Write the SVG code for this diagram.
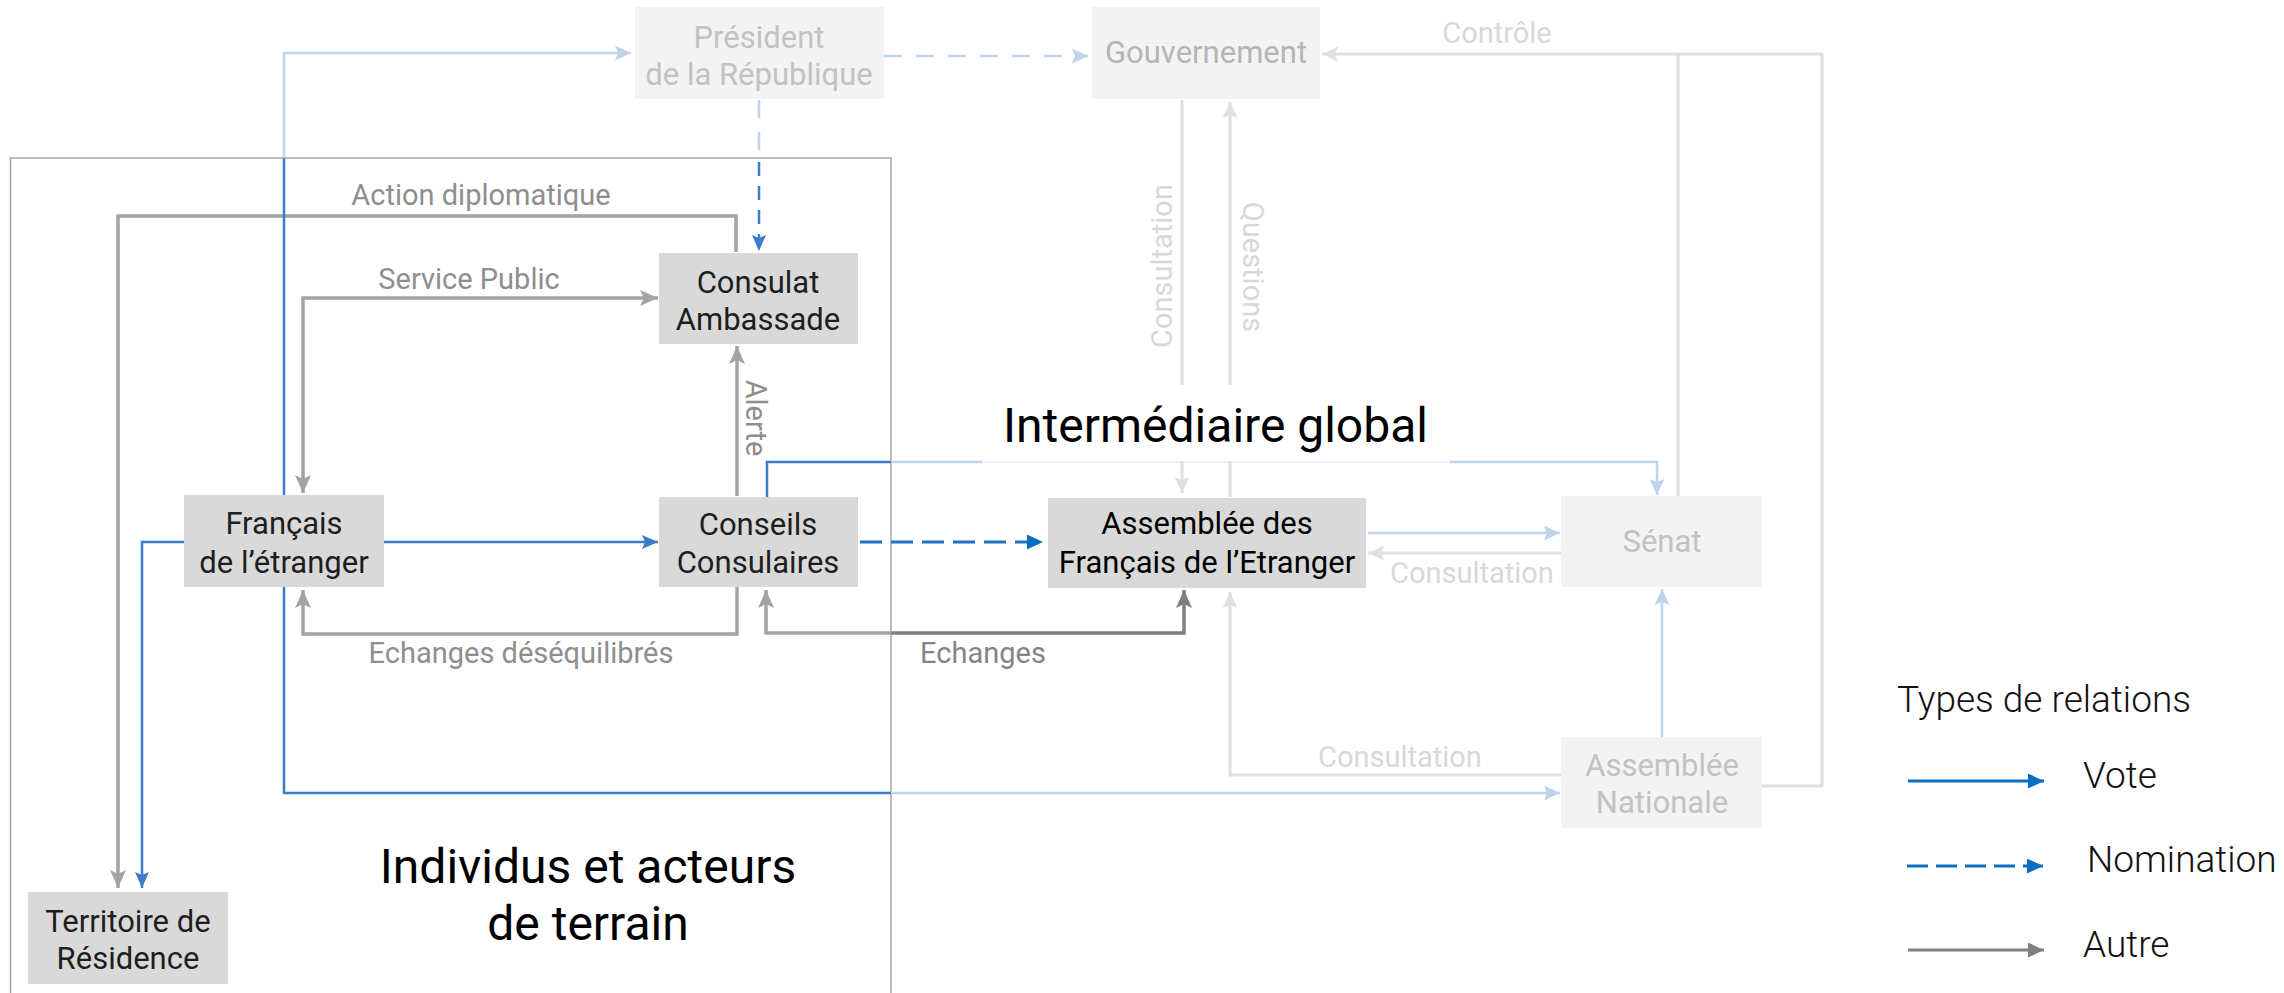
<svg xmlns="http://www.w3.org/2000/svg" width="2284" height="993" viewBox="0 0 2284 993">
<style>
text{font-family:Roboto,"Liberation Sans",sans-serif}
.box{fill:#d9d9d9}
.fbox{fill:#f3f3f3}
.bt{font-size:31px;fill:#1e1e1e;text-anchor:middle}
.fbt{font-size:31px;fill:#c2c2c2;text-anchor:middle}
.el{font-size:29px;fill:#8e8e8e;text-anchor:middle}
.fel{font-size:29px;fill:#d8d8d8;text-anchor:middle}
.title{font-size:48px;fill:#000}
.leg{font-size:37px;font-weight:300;fill:#111}
.g{fill:none;stroke:#a3a3a3;stroke-width:3.5}
.dg{fill:none;stroke:#7f7f7f;stroke-width:3.5}
.b{fill:none;stroke:#3d7cc9;stroke-width:2.5}
.fb{fill:none;stroke:#bfd3ec;stroke-width:2.5}
.fg{fill:none;stroke:#e0e0e0;stroke-width:3}
.nb{fill:none;stroke:#1f72c4;stroke-width:3;stroke-dasharray:22 9}
.vnb{fill:none;stroke:#3d7cc9;stroke-width:2.5;stroke-dasharray:14 10}
.fnb{fill:none;stroke:#bfd3ec;stroke-width:2.5;stroke-dasharray:18 14}
</style>
<defs>
<marker id="mg" markerUnits="userSpaceOnUse" markerWidth="18" markerHeight="16" refX="18" refY="8" orient="auto-start-reverse"><path d="M0,0 L18,8 L0,16 L4,8 z" fill="#a3a3a3"/></marker>
<marker id="mdg" markerUnits="userSpaceOnUse" markerWidth="18" markerHeight="16" refX="18" refY="8" orient="auto-start-reverse"><path d="M0,0 L18,8 L0,16 L4,8 z" fill="#7f7f7f"/></marker>
<marker id="mb" markerUnits="userSpaceOnUse" markerWidth="16" markerHeight="14" refX="16" refY="7" orient="auto-start-reverse"><path d="M0,0 L16,7 L0,14 L3,7 z" fill="#3d7cc9"/></marker>
<marker id="mnb" markerUnits="userSpaceOnUse" markerWidth="16" markerHeight="15" refX="16" refY="7.5" orient="auto-start-reverse"><path d="M0,0 L16,7.5 L0,15 z" fill="#0a6fc2"/></marker>
<marker id="mfb" markerUnits="userSpaceOnUse" markerWidth="16" markerHeight="15" refX="16" refY="7.5" orient="auto-start-reverse"><path d="M0,0 L16,7.5 L0,15 L3,7.5 z" fill="#bfd3ec"/></marker>
<marker id="mfg" markerUnits="userSpaceOnUse" markerWidth="16" markerHeight="15" refX="16" refY="7.5" orient="auto-start-reverse"><path d="M0,0 L16,7.5 L0,15 L3,7.5 z" fill="#e0e0e0"/></marker>
<marker id="mlg" markerUnits="userSpaceOnUse" markerWidth="16" markerHeight="15" refX="16" refY="7.5" orient="auto-start-reverse"><path d="M0,0 L16,7.5 L0,15 z" fill="#808080"/></marker>
</defs>
<rect width="2284" height="993" fill="#fff"/>
<rect id="frame" x="10.5" y="158" width="880.5" height="840" fill="none" stroke="#a6a6a6" stroke-width="1.5"/>
<g id="connectors">
<path class="g" d="M736,252 V216 H118 V888" marker-end="url(#mg)"/>
<path class="g" d="M303,493 V298 H658" marker-start="url(#mg)" marker-end="url(#mg)"/>
<path class="g" d="M737,496 V346" marker-end="url(#mg)"/>
<path class="g" d="M737,587 V634 H303 V590" marker-end="url(#mg)"/>
<path class="g" d="M766,590 V633 H891" marker-start="url(#mg)"/>
<path class="dg" d="M891,633 H1184 V590" marker-end="url(#mdg)"/>
<path class="b" d="M384,542 H658" marker-end="url(#mb)"/>
<path class="b" d="M184,542 H142 V888" marker-end="url(#mb)"/>
<path class="b" d="M284,495 V158"/>
<path class="fb" d="M284,158 V53 H631" marker-end="url(#mfb)"/>
<path class="b" d="M284,587 V793 H891"/>
<path class="fb" d="M891,793 H1560" marker-end="url(#mfb)"/>
<path class="b" d="M767,497 V462 H891"/>
<path class="fb" d="M891,462 H982"/>
<path fill="none" stroke="#edf2f9" stroke-width="2.5" d="M982,462 H1450"/>
<path class="fb" d="M1450,462 H1657 V495" marker-end="url(#mfb)"/>
<path class="fnb" d="M759,100 V158"/>
<path class="vnb" d="M759,162 V251" marker-end="url(#mb)"/>
<path class="nb" d="M860,542 H1043" marker-end="url(#mnb)"/>
<path class="fnb" d="M884,56 H1088" marker-end="url(#mfb)"/>
<path class="fg" d="M1182,100 V493" marker-end="url(#mfg)"/>
<path class="fg" d="M1230,497 V102" marker-end="url(#mfg)"/>
<path class="fb" d="M1368,533 H1560" marker-end="url(#mfb)"/>
<path class="fg" d="M1561,553 H1368" marker-end="url(#mfg)"/>
<path class="fg" d="M1561,775 H1230 V592" marker-end="url(#mfg)"/>
<path class="fb" d="M1662,737 V589" marker-end="url(#mfb)"/>
<path class="fg" d="M1762,786 H1822 V54 H1322" marker-end="url(#mfg)"/>
<path class="fg" d="M1678,496 V54"/>
</g>
<g id="edge-labels">
<text class="el" x="481" y="205">Action diplomatique</text>
<text class="el" x="469" y="289">Service Public</text>
<text class="el" transform="translate(746,418) rotate(90)">Alerte</text>
<text class="el" x="521" y="663">Echanges déséquilibrés</text>
<text class="el" x="983" y="663" style="fill:#858585">Echanges</text>
<text class="fel" transform="translate(1172,266) rotate(-90)">Consultation</text>
<text class="fel" transform="translate(1243,267) rotate(90)">Questions</text>
<text class="fel" x="1497" y="43">Contrôle</text>
<text class="fel" x="1472" y="583">Consultation</text>
<text class="fel" x="1400" y="767">Consultation</text>
</g>
<g id="president"><rect class="fbox" x="635" y="7" width="249" height="92"/><text class="fbt" x="759" y="48">Président</text><text class="fbt" x="759" y="85">de la République</text></g>
<g id="gouvernement"><rect class="fbox" x="1092" y="7" width="228" height="92"/><text class="fbt" x="1206" y="63" style="fill:#b5b5b5">Gouvernement</text></g>
<g id="consulat"><rect class="box" x="659" y="253" width="199" height="91"/><text class="bt" x="758" y="293">Consulat</text><text class="bt" x="758" y="330">Ambassade</text></g>
<g id="francais"><rect class="box" x="184" y="495" width="200" height="92"/><text class="bt" x="284" y="534">Français</text><text class="bt" x="284" y="573">de l’étranger</text></g>
<g id="conseils"><rect class="box" x="659" y="497" width="199" height="90"/><text class="bt" x="758" y="535">Conseils</text><text class="bt" x="758" y="573">Consulaires</text></g>
<g id="afe"><rect class="box" x="1048" y="498" width="318" height="90"/><text class="bt" x="1207" y="534" style="fill:#000">Assemblée des</text><text class="bt" x="1207" y="573" style="fill:#000">Français de l’Etranger</text></g>
<g id="senat"><rect class="fbox" x="1561" y="496" width="201" height="91"/><text class="fbt" x="1662" y="552">Sénat</text></g>
<g id="assemblee-nationale"><rect class="fbox" x="1561" y="737" width="201" height="91"/><text class="fbt" x="1662" y="776">Assemblée</text><text class="fbt" x="1662" y="813">Nationale</text></g>
<g id="territoire"><rect class="box" x="28" y="892" width="200" height="92"/><text class="bt" x="128" y="932">Territoire de</text><text class="bt" x="128" y="969">Résidence</text></g>
<g id="intermediaire">
<rect x="982" y="385" width="468" height="76" fill="#fff"/>
<text class="title" x="1003" y="442">Intermédiaire global</text>
</g>
<g id="individus"><text class="title" x="588" y="883" text-anchor="middle">Individus et acteurs</text><text class="title" x="588" y="940" text-anchor="middle">de terrain</text></g>
<g id="legend">
<text class="leg" x="1897" y="712">Types de relations</text>
<path d="M1908,781 H2044" stroke="#0a6fc2" stroke-width="3" fill="none" marker-end="url(#mnb)"/>
<text class="leg" x="2083" y="788">Vote</text>
<path d="M1907,866 H2043" stroke="#0a6fc2" stroke-width="3" fill="none" stroke-dasharray="21 8" marker-end="url(#mnb)"/>
<text class="leg" x="2087" y="872">Nomination</text>
<path d="M1908,950 H2044" stroke="#808080" stroke-width="3" fill="none" marker-end="url(#mlg)"/>
<text class="leg" x="2083" y="957">Autre</text>
</g>
</svg>
